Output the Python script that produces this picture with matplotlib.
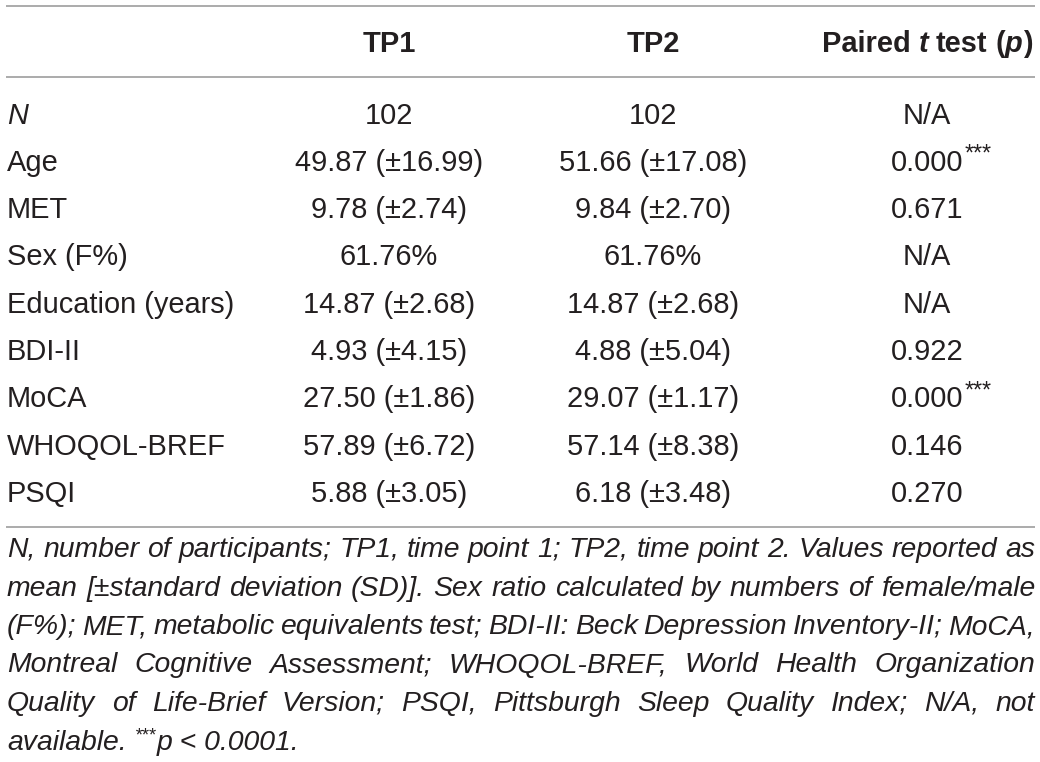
import matplotlib.pyplot as plt

# table content
labels = ["N", "Age", "MET", "Sex (F%)", "Education (years)", "BDI-II", "MoCA",
          "WHOQOL-BREF", "PSQI"]
tp1 = ["102", "49.87 (±16.99)", "9.78 (±2.74)", "61.76%", "14.87 (±2.68)",
       "4.93 (±4.15)", "27.50 (±1.86)", "57.89 (±6.72)", "5.88 (±3.05)"]
tp2 = ["102", "51.66 (±17.08)", "9.84 (±2.70)", "61.76%", "14.87 (±2.68)",
       "4.88 (±5.04)", "29.07 (±1.17)", "57.14 (±8.38)", "6.18 (±3.48)"]
pvals = ["N/A", "0.000", "0.671", "N/A", "N/A", "0.922", "0.000", "0.146", "0.270"]
stars = ["", "***", "", "", "", "", "***", "", ""]
headers = ["TP1", "TP2"]

note_lines = [
    "N, number of participants; TP1, time point 1; TP2, time point 2. Values reported as",
    "mean [±standard deviation (SD)]. Sex ratio calculated by numbers of female/male",
    "(F%); MET, metabolic equivalents test; BDI-II: Beck Depression Inventory-II; MoCA,",
    "Montreal Cognitive Assessment; WHOQOL-BREF, World Health Organization",
    "Quality of Life-Brief Version; PSQI, Pittsburgh Sleep Quality Index; N/A, not",
]

plt.rcParams['font.family'] = ['Liberation Sans', 'DejaVu Sans']
FS = 20.9
FN = 20.4
TXT = '#231f20'
LINE = '#a5a5a5'

fig = plt.figure(figsize=(10.4, 7.62), dpi=100)
ax = fig.add_axes([0, 0, 1, 1])
ax.set_xlim(0, 1040)
ax.set_ylim(762, 0)
ax.axis('off')
fig.canvas.draw()
r = fig.canvas.get_renderer()


def width(s, **kw):
    t = ax.text(0, 0, s, fontsize=kw.pop('fontsize', FS), **kw)
    w = t.get_window_extent(renderer=r).width
    t.remove()
    return w


def space(**kw):
    return width("a a", **kw) - width("aa", **kw)


def put(x, y, s, **kw):
    ax.text(x, y, s, fontsize=kw.pop('fontsize', FS), color=TXT, va='baseline', **kw)


x0, x1 = 7, 1035
col_tp1, col_tp2, col_p = 389, 653, 927

# rules
for yl in [6, 77, 527]:
    ax.plot([x0 - 1, x1], [yl, yl], color=LINE, lw=1.3, solid_capstyle='butt')

# header
yh = 52
put(col_tp1, yh, headers[0], ha='center', fontweight='bold')
put(col_tp2, yh, headers[1], ha='center', fontweight='bold')
b = dict(fontweight='bold')
bi = dict(fontweight='bold', style='italic')
segs = [("Paired", b), (None, b), ("t", bi), (None, b), ("test", b), (None, b),
        ("(", b), ("p", bi), (")", b)]
ws = [space(**k) if s is None else width(s, **k) for s, k in segs]
x = col_p - sum(ws) / 2
for (s, k), w in zip(segs, ws):
    if s is not None:
        put(x, yh, s, ha='left', **k)
    x += w

# body rows
y_first, dy = 123.5, 47.3
for i, lab in enumerate(labels):
    y = y_first + dy * i
    put(x0, y, lab, ha='left', style='italic' if lab == "N" else 'normal')
    put(col_tp1, y, tp1[i], ha='center')
    put(col_tp2, y, tp2[i], ha='center')
    put(col_p, y, pvals[i], ha='center')
    if stars[i]:
        wv = width(pvals[i])
        put(col_p + wv / 2 + 1, y - 10, stars[i], ha='left', fontsize=FS * 0.8)

# footnote, justified
yn, dn = 557, 38.5
it = dict(style='italic', fontsize=FN)
for j, line in enumerate(note_lines):
    words = line.split(" ")
    ww = [width(w, **it) for w in words]
    gap = (x1 - x0 - sum(ww)) / (len(words) - 1)
    x = x0
    for w, wd in zip(words, ww):
        put(x, yn + dn * j, w, ha='left', **it)
        x += wd + gap

# last footnote line
y = yn + dn * len(note_lines)
sp = space(**it)
x = x0
put(x, y, "available.", ha='left', **it)
x += width("available.", **it) + sp
put(x, y - 9, "***", ha='left', fontsize=FN * 0.65, style='italic')
x += width("***", fontsize=FN * 0.65, style='italic') + 1
put(x, y, "p < 0.0001.", ha='left', **it)

fig.savefig("out.png", dpi=100)
